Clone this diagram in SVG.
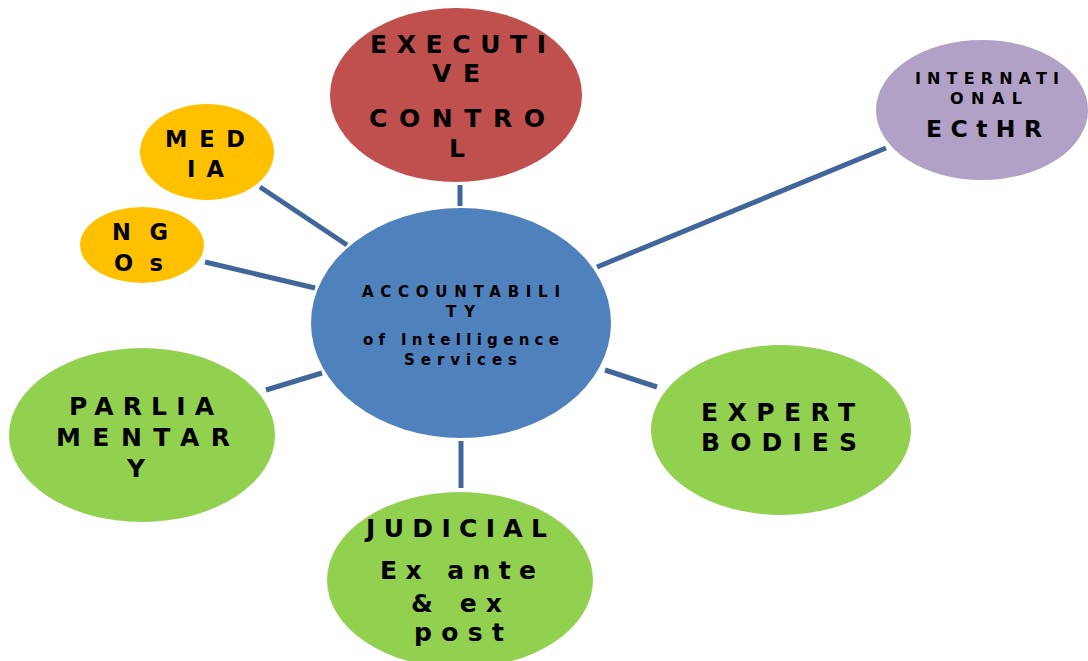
<svg xmlns="http://www.w3.org/2000/svg" width="1088" height="661" viewBox="0 0 1088 661">
  <style>
    text { font-family: "DejaVu Sans", "Liberation Sans", sans-serif; font-weight: bold; fill: #000; }
    .big { font-size: 25px; }
    .mid { font-size: 22.5px; }
    .small { font-size: 15px; }
    .link { stroke: #41679A; stroke-width: 5; fill: none; }
  </style>
  <rect width="1088" height="661" fill="#fff"/>

  <!-- connectors between hub and satellites -->
  <g id="connectors">
    <line class="link" x1="460" y1="185" x2="460" y2="206"/>
    <line class="link" x1="597" y1="267" x2="886" y2="148"/>
    <line class="link" x1="260" y1="187" x2="347" y2="245"/>
    <line class="link" x1="205" y1="262" x2="315" y2="288"/>
    <line class="link" x1="266" y1="390" x2="322" y2="373"/>
    <line class="link" x1="461" y1="441" x2="461" y2="488"/>
    <line class="link" x1="605" y1="370" x2="657" y2="387"/>
  </g>

  <g id="hub">
    <ellipse cx="461" cy="323" rx="150" ry="115" fill="#4F81BD"/>
    <text class="small" x="362" y="297" textLength="198" lengthAdjust="spacing">ACCOUNTABILI</text>
    <text class="small" x="446" y="317" textLength="29" lengthAdjust="spacing">TY</text>
    <text class="small" x="363" y="345" textLength="196" lengthAdjust="spacing">of Intelligence</text>
    <text class="small" x="404" y="365" textLength="113" lengthAdjust="spacing">Services</text>
  </g>

  <g id="executive">
    <ellipse cx="456" cy="95" rx="126" ry="87" fill="#C0504D"/>
    <text class="big" x="370" y="53" textLength="176" lengthAdjust="spacing">EXECUTI</text>
    <text class="big" x="432" y="82" textLength="48" lengthAdjust="spacing">VE</text>
    <text class="big" x="369" y="127" textLength="176" lengthAdjust="spacing">CONTRO</text>
    <text class="big" x="449" y="157">L</text>
  </g>

  <g id="international">
    <ellipse cx="982" cy="110" rx="106" ry="70" fill="#B2A1C7"/>
    <text font-size="16" x="915" y="84" textLength="144" lengthAdjust="spacing">INTERNATI</text>
    <text font-size="16" x="950" y="104" textLength="72" lengthAdjust="spacing">ONAL</text>
    <text font-size="23.5" x="926" y="137" textLength="116" lengthAdjust="spacing">ECtHR</text>
  </g>

  <g id="media">
    <ellipse cx="207" cy="152" rx="67" ry="48" fill="#FFC000"/>
    <text class="mid" x="165" y="147" textLength="80" lengthAdjust="spacing">MED</text>
    <text class="mid" x="187" y="177" textLength="37" lengthAdjust="spacing">IA</text>
  </g>

  <g id="ngos">
    <ellipse cx="142" cy="245" rx="62" ry="38" fill="#FFC000"/>
    <text class="mid" x="112" y="240" textLength="56" lengthAdjust="spacing">N G</text>
    <text class="mid" x="114" y="271" textLength="49" lengthAdjust="spacing">Os</text>
  </g>

  <g id="parliamentary">
    <ellipse cx="142" cy="435" rx="133" ry="87" fill="#92D050"/>
    <text class="big" x="69" y="415" textLength="145" lengthAdjust="spacing">PARLIA</text>
    <text class="big" x="56" y="446" textLength="174" lengthAdjust="spacing">MENTAR</text>
    <text class="big" x="127" y="477">Y</text>
  </g>

  <g id="judicial">
    <ellipse cx="460" cy="580" rx="133" ry="88" fill="#92D050"/>
    <text class="big" x="366" y="537" textLength="181" lengthAdjust="spacing">JUDICIAL</text>
    <text class="big" x="380" y="579" textLength="156" lengthAdjust="spacing">Ex ante</text>
    <text class="big" x="411" y="612" textLength="91" lengthAdjust="spacing">&amp; ex</text>
    <text class="big" x="414" y="641" textLength="90" lengthAdjust="spacing">post</text>
  </g>

  <g id="expert-bodies">
    <ellipse cx="781" cy="430" rx="130" ry="85" fill="#92D050"/>
    <text class="big" x="701" y="421" textLength="154" lengthAdjust="spacing">EXPERT</text>
    <text class="big" x="701" y="451" textLength="156" lengthAdjust="spacing">BODIES</text>
  </g>
</svg>
